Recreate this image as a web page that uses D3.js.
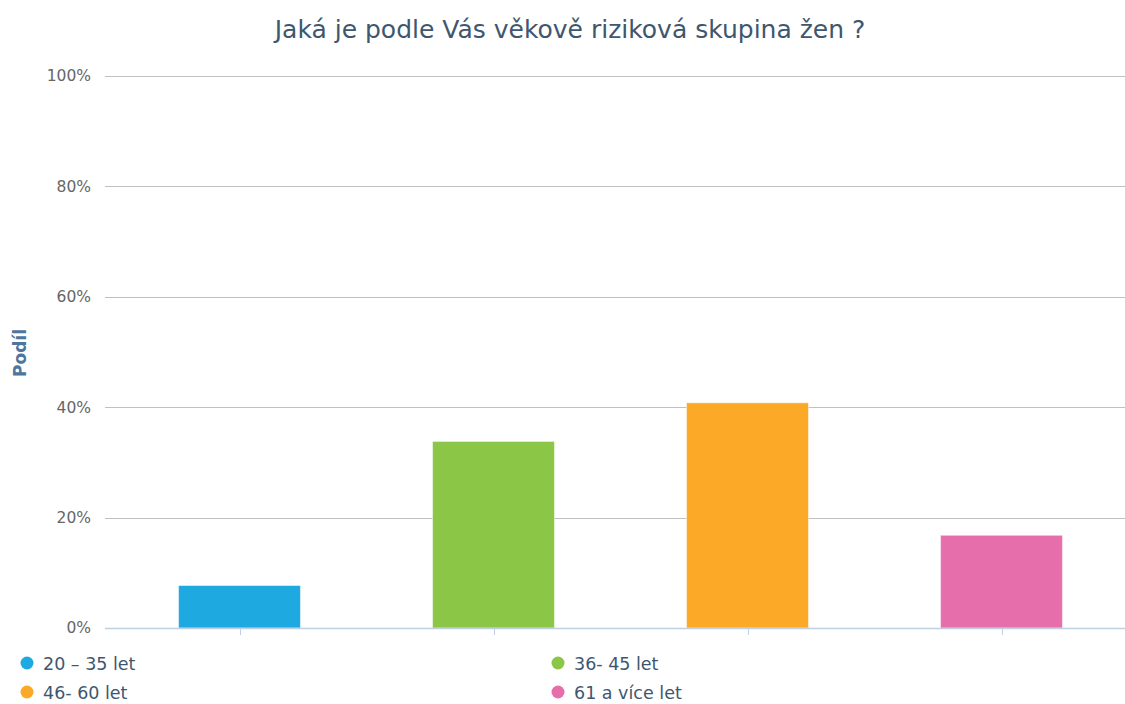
<!DOCTYPE html>
<html>
<head>
<meta charset="utf-8">
<script src="https://cdn.jsdelivr.net/npm/d3@7"></script>
<style>
  html, body { margin: 0; padding: 0; background: #fff; }
  svg { display: block; font-family: "DejaVu Sans", sans-serif; }
</style>
</head>
<body>
<svg id="chart" width="1125" height="704"></svg>
<script>
// Age groups and their share of answers (%)
const categories = ["20 – 35 let", "36- 45 let", "46- 60 let", "61 a více let"];
const values = [7.7, 33.8, 40.8, 16.8];
const colors = ["#1fa9e1", "#8bc646", "#fba926", "#e66fab"];
const yTicks = [0, 20, 40, 60, 80, 100];
const titleText = "Jaká je podle Vás věkově riziková skupina žen ?";
const yAxisTitle = "Podíl";

const svg = d3.select("#chart");

const plotLeft = 105, plotRight = 1125, plotTop = 76, plotBottom = 628;

const x = d3.scaleBand()
  .domain(categories)
  .range([112.5, 1128.5])
  .paddingInner(0.52)
  .paddingOuter(0.26);

const y = d3.scaleLinear().domain([0, 100]).range([plotBottom, plotTop]);

// Title
svg.append("text")
  .attr("x", 570).attr("y", 38)
  .attr("text-anchor", "middle")
  .attr("fill", "#3e576f")
  .attr("font-size", 25)
  .text(titleText);

// Horizontal grid lines
svg.append("g").selectAll("line")
  .data(yTicks.filter(d => d > 0))
  .join("line")
  .attr("x1", plotLeft).attr("x2", plotRight)
  .attr("y1", d => Math.round(y(d)) + 0.5).attr("y2", d => Math.round(y(d)) + 0.5)
  .attr("stroke", "#c0c0c0").attr("stroke-width", 1);

// Y axis labels
const yAxis = d3.axisLeft(y).tickValues(yTicks).tickFormat(d => d + "%").tickSize(0).tickPadding(0);
const gy = svg.append("g").attr("transform", "translate(91,0)").call(yAxis);
gy.select(".domain").remove();
gy.selectAll("text")
  .attr("fill", "#666")
  .attr("font-size", 15.5)
  .attr("font-family", "DejaVu Sans, sans-serif");

// Y axis title
svg.append("text")
  .attr("transform", "translate(26,353) rotate(-90)")
  .attr("text-anchor", "middle")
  .attr("fill", "#4d759e")
  .attr("font-size", 17)
  .attr("font-weight", "bold")
  .text(yAxisTitle);

// Bars
svg.append("g").selectAll("rect")
  .data(categories.map((c, i) => ({ c, v: values[i], col: colors[i] })))
  .join("rect")
  .attr("x", d => x(d.c))
  .attr("y", d => y(d.v))
  .attr("width", x.bandwidth())
  .attr("height", d => y(0) - y(d.v))
  .attr("fill", d => d.col)
  .attr("stroke", "#fff")
  .attr("stroke-opacity", 0.5)
  .attr("stroke-width", 1);

// X axis line and ticks at category centres
svg.append("line")
  .attr("x1", plotLeft).attr("x2", plotRight)
  .attr("y1", plotBottom + 0.5).attr("y2", plotBottom + 0.5)
  .attr("stroke", "#c0d0e0").attr("stroke-width", 1.5);
svg.append("g").selectAll("line")
  .data(categories)
  .join("line")
  .attr("x1", d => Math.round(x(d) + x.bandwidth() / 2) + 0.5)
  .attr("x2", d => Math.round(x(d) + x.bandwidth() / 2) + 0.5)
  .attr("y1", plotBottom).attr("y2", plotBottom + 7)
  .attr("stroke", "#c0d0e0").attr("stroke-width", 1);

// Legend, two columns
const legendPos = [[27, 663], [558, 663], [27, 692], [558, 692]];
const legendOrder = [0, 1, 2, 3];
const lg = svg.append("g").selectAll("g")
  .data(legendOrder)
  .join("g")
  .attr("transform", (d, i) => `translate(${legendPos[i][0]},${legendPos[i][1]})`);
lg.append("circle").attr("r", 6.5).attr("fill", d => colors[d]);
lg.append("text")
  .attr("x", 16).attr("y", 6.5)
  .attr("fill", "#3e576f")
  .attr("font-size", 17.5)
  .attr("letter-spacing", 0)
  .text(d => categories[d]);
</script>
</body>
</html>
